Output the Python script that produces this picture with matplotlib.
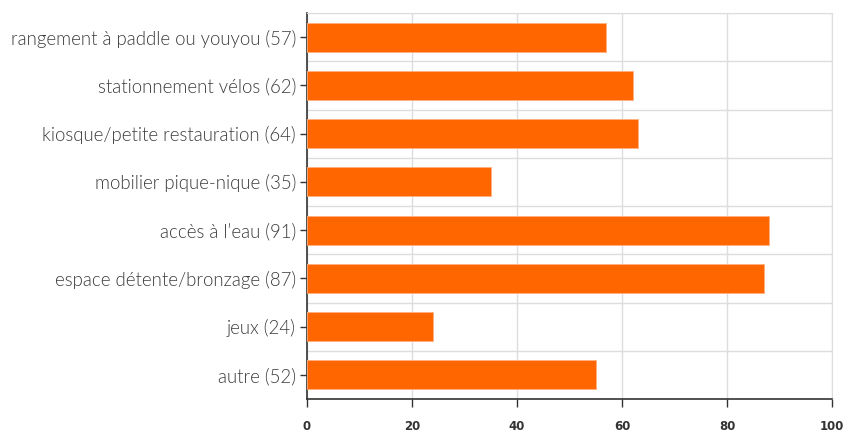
import matplotlib.pyplot as plt
from matplotlib.ticker import FixedLocator

# categories (top to bottom) and bar values
categories = [
    "rangement à paddle ou youyou (57)",
    "stationnement vélos (62)",
    "kiosque/petite restauration (64)",
    "mobilier pique-nique (35)",
    "accès à l’eau (91)",
    "espace détente/bronzage (87)",
    "jeux (24)",
    "autre (52)",
]
values = [57, 62, 63, 35, 88, 87, 24, 55]
x_ticks = [0, 20, 40, 60, 80, 100]

fig = plt.figure(figsize=(8.46, 4.32), dpi=100)
ax = fig.add_axes([307 / 846, 1 - 399 / 432, 525 / 846, 386 / 432])

pos = list(range(len(categories)))
ax.barh(pos, values, height=0.6, color="#ff6600", edgecolor="#ffb080",
        linewidth=0.6, zorder=3)

ax.set_xlim(0, 100)
ax.set_ylim(len(categories) - 0.5, -0.5)

ax.set_yticks(pos)
ax.set_yticklabels(categories, fontfamily="Lato", fontweight=300,
                   fontsize=13.4, color="#3a3a3a")
ax.yaxis.set_minor_locator(FixedLocator([p + 0.5 for p in range(-1, len(categories))]))
ax.set_xticks(x_ticks)
ax.set_xticklabels([str(t) for t in x_ticks], fontfamily="DejaVu Sans",
                   fontsize=8.5, fontweight="bold", color="#333333")

ax.grid(True, axis="x", which="major", color="#dddddd", linewidth=1, zorder=0)
ax.grid(True, axis="y", which="minor", color="#dddddd", linewidth=1, zorder=0)
ax.tick_params(axis="y", which="minor", length=0)
ax.tick_params(axis="y", which="major", length=5, width=1, color="#333333", pad=3)
ax.tick_params(axis="x", length=6, width=1, color="#333333", pad=9)

for side in ["top", "right"]:
    ax.spines[side].set_color("#dddddd")
for side in ["left", "bottom"]:
    ax.spines[side].set_color("#333333")
    ax.spines[side].set_linewidth(1.2)

fig.savefig("out.png", dpi=100)
